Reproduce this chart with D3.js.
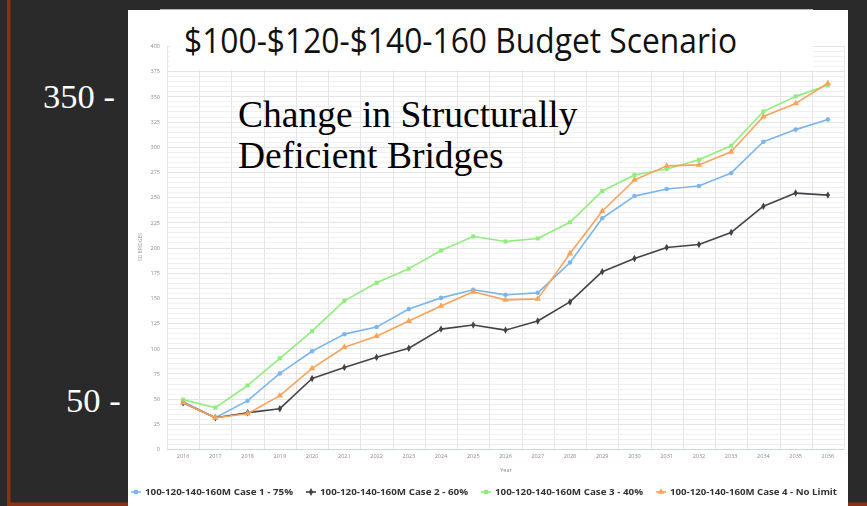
<!DOCTYPE html>
<html>
<head>
<meta charset="utf-8">
<script src="https://cdn.jsdelivr.net/npm/d3@7/dist/d3.min.js"></script>
<style>
  html, body { margin: 0; padding: 0; background: #2a2a2a; }
  svg { display: block; }
</style>
</head>
<body>
<svg id="chart" width="867" height="506"></svg>
<script>
// Structurally deficient bridge counts by year, per funding case
const years = ["2016","2017","2018","2019","2020","2021","2022","2023","2024","2025","2026",
               "2027","2028","2029","2030","2031","2032","2033","2034","2035","2036"];
const case1 = [47, 31, 48, 75, 97, 114, 121, 139, 150, 158, 153, 155, 185, 229, 251, 258, 261, 274, 305, 317, 327];
const case2 = [46, 31, 36, 40, 70, 81, 91, 100, 119, 123, 118, 127, 146, 176, 189, 200, 203, 215, 241, 254, 252];
const case3 = [49, 41, 63, 90, 117, 147, 165, 179, 197, 211, 206, 209, 225, 256, 272, 278, 287, 301, 335, 350, 361];
const case4 = [46, 31, 35, 53, 80, 101, 112, 127, 142, 156, 148, 149, 194, 236, 267, 281, 282, 295, 330, 343, 363];
const seriesNames = [
  "100-120-140-160M Case 1 - 75%",
  "100-120-140-160M Case 2 - 60%",
  "100-120-140-160M Case 3 - 40%",
  "100-120-140-160M Case 4 - No Limit"
];
const yTicks = [0, 25, 50, 75, 100, 125, 150, 175, 200, 225, 250, 275, 300, 325, 350, 375, 400];

const series = [
  { name: seriesNames[0], values: case1, color: "#7cb5ec", symbol: d3.symbolCircle },
  { name: seriesNames[1], values: case2, color: "#434348", symbol: d3.symbolDiamond },
  { name: seriesNames[2], values: case3, color: "#90ed7d", symbol: d3.symbolSquare },
  { name: seriesNames[3], values: case4, color: "#f7a35c", symbol: d3.symbolTriangle }
];

const svg = d3.select("#chart");
const defs = svg.append("defs");
defs.append("filter").attr("id", "soft")
  .append("feGaussianBlur").attr("stdDeviation", 0.45);

// slide frame accents
svg.append("rect").attr("x", 7).attr("y", 0).attr("width", 3.5).attr("height", 506).attr("fill", "#8e3012");
svg.append("rect").attr("x", 7).attr("y", 502.5).attr("width", 122).attr("height", 3.5).attr("fill", "#8e3012");
svg.append("rect").attr("x", 848).attr("y", 502.5).attr("width", 19).attr("height", 3.5).attr("fill", "#8e3012");

// white chart panel
svg.append("rect").attr("x", 128).attr("y", 10).attr("width", 720).attr("height", 496).attr("fill", "#ffffff");

const x = d3.scaleBand().domain(years).range([167, 844]).padding(0);
const y = d3.scaleLinear().domain([0, 400]).range([449, 46]);
const cx = d => x(d) + x.bandwidth() / 2;

const plot = svg.append("g").attr("filter", "url(#soft)");

// minor horizontal grid every 5
const minor = d3.range(0, 401, 5).filter(v => v % 25 !== 0);
plot.append("g").selectAll("line").data(minor).join("line")
  .attr("x1", 167).attr("x2", 844)
  .attr("y1", d => Math.round(y(d)) + 0.5).attr("y2", d => Math.round(y(d)) + 0.5)
  .attr("stroke", "#f1f1f1").attr("stroke-width", 1);

// major horizontal grid
plot.append("g").selectAll("line").data(yTicks).join("line")
  .attr("x1", 167).attr("x2", 844)
  .attr("y1", d => Math.round(y(d)) + 0.5).attr("y2", d => Math.round(y(d)) + 0.5)
  .attr("stroke", "#e4e4e4").attr("stroke-width", 1);

// vertical grid at category boundaries
const bounds = years.map(d => x(d)).concat([x(years[years.length - 1]) + x.bandwidth()]);
plot.append("g").selectAll("line").data(bounds).join("line")
  .attr("x1", d => Math.round(d) + 0.5).attr("x2", d => Math.round(d) + 0.5)
  .attr("y1", y(400)).attr("y2", y(0))
  .attr("stroke", "#e6e6e6").attr("stroke-width", 1);

// x axis line
plot.append("line").attr("x1", 167).attr("x2", 844)
  .attr("y1", Math.round(y(0)) + 0.5).attr("y2", Math.round(y(0)) + 0.5)
  .attr("stroke", "#ccd6eb").attr("stroke-width", 1);

// y axis labels
const yAxis = d3.axisLeft(y).tickValues(yTicks).tickSize(0).tickPadding(0);
const yg = plot.append("g").attr("transform", "translate(160,0)").call(yAxis);
yg.select(".domain").remove();
yg.selectAll("text").attr("font-family", "Open Sans, sans-serif").attr("font-size", 5.5).attr("fill", "#8a8a8a");

// x axis labels
const xAxis = d3.axisBottom(x).tickSize(0).tickPadding(0);
const xg = plot.append("g").attr("transform", "translate(0,454)").call(xAxis);
xg.select(".domain").remove();
xg.selectAll("text").attr("font-family", "Open Sans, sans-serif").attr("font-size", 5.5).attr("fill", "#8a8a8a");

plot.append("text").attr("x", 506).attr("y", 472).attr("text-anchor", "middle")
  .attr("font-family", "Open Sans, sans-serif").attr("font-size", 5.5).attr("fill", "#8a8a8a").text("Year");
plot.append("text").attr("transform", "translate(142,247) rotate(-90)").attr("text-anchor", "middle")
  .attr("font-family", "Open Sans, sans-serif").attr("font-size", 5).attr("fill", "#999").text("SD BRIDGES");

// series lines and markers
const line = d3.line().x((v, i) => cx(years[i])).y(v => y(v));
series.forEach(s => {
  plot.append("path").datum(s.values).attr("d", line)
    .attr("fill", "none").attr("stroke", s.color).attr("stroke-width", 1.6).attr("stroke-linejoin", "round");
  plot.append("g").selectAll("path").data(s.values).join("path")
    .attr("transform", (v, i) => `translate(${cx(years[i])},${y(v)})`)
    .attr("d", d3.symbol().type(s.symbol).size(s.symbol === d3.symbolTriangle ? 18 : 16))
    .attr("fill", s.color);
});

// title box across the top of the plot
svg.append("rect").attr("x", 170).attr("y", 9).attr("width", 643).attr("height", 61).attr("fill", "#ffffff");
svg.append("line").attr("x1", 160).attr("x2", 813).attr("y1", 9.5).attr("y2", 9.5).attr("stroke", "#b5b5b5").attr("stroke-width", 1);
svg.append("text").attr("x", 184).attr("y", 53)
  .attr("font-family", "Open Sans, sans-serif").attr("font-size", 35).attr("fill", "#111")
  .attr("textLength", 553).attr("lengthAdjust", "spacingAndGlyphs")
  .text("$100-$120-$140-160 Budget Scenario");

// overlay caption
const cap = svg.append("text").attr("font-family", "Liberation Serif, Times New Roman, serif")
  .attr("font-size", 37.5).attr("fill", "#000");
cap.append("tspan").attr("x", 238).attr("y", 127).text("Change in Structurally");
cap.append("tspan").attr("x", 238).attr("y", 168).text("Deficient Bridges");

// side scale notes
svg.append("text").attr("x", 43).attr("y", 108).attr("font-family", "Liberation Serif, Times New Roman, serif")
  .attr("font-size", 34.5).attr("fill", "#ffffff").text("350 -");
svg.append("text").attr("x", 66).attr("y", 412).attr("font-family", "Liberation Serif, Times New Roman, serif")
  .attr("font-size", 34.5).attr("fill", "#ffffff").text("50 -");

// legend
const legendX = [145, 320, 495, 670];
const legendW = [148, 148, 148, 167];
const lg = svg.append("g").attr("filter", "url(#soft)");
series.forEach((s, i) => {
  const g = lg.append("g").attr("transform", `translate(${legendX[i]},492)`);
  g.append("line").attr("x1", -14).attr("x2", -4).attr("y1", 0).attr("y2", 0)
    .attr("stroke", s.color).attr("stroke-width", 1.6);
  g.append("path").attr("transform", "translate(-9,0)")
    .attr("d", d3.symbol().type(s.symbol).size(18)).attr("fill", s.color);
  g.append("text").attr("x", 0).attr("y", 3.2)
    .attr("font-family", "Open Sans, sans-serif").attr("font-weight", "bold").attr("font-size", 8.5)
    .attr("fill", "#333").attr("textLength", legendW[i]).attr("lengthAdjust", "spacingAndGlyphs")
    .text(s.name);
});
</script>
</body>
</html>
